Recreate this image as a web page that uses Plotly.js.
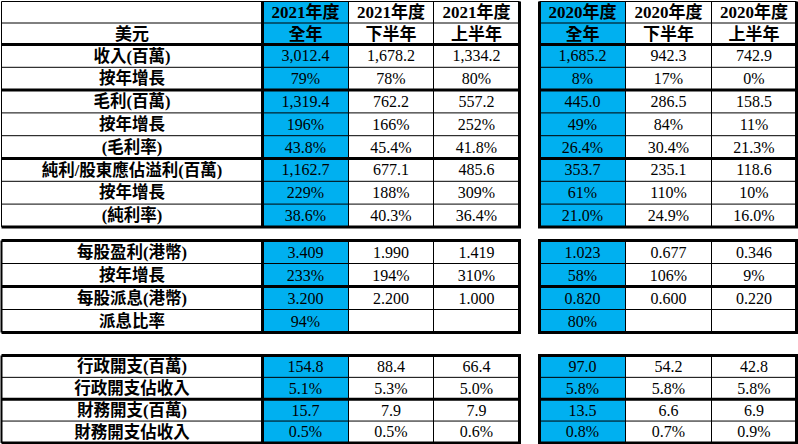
<!DOCTYPE html>
<html><head><meta charset="utf-8">
<script src="https://cdn.plot.ly/plotly-3.0.1.min.js"></script>
<style>html,body{margin:0;padding:0;background:#fff;overflow:hidden}</style>
</head><body><div id="chart" style="width:798px;height:444px"></div>
<script>
// ---------------- DATA ----------------
const periods = ['2021年度','2021年度','2021年度','2020年度','2020年度','2020年度'];
const halves  = ['全年','下半年','上半年','全年','下半年','上半年'];
const unitLabel = '美元';

const labels1 = ['收入(百萬)','按年增長','毛利(百萬)','按年增長','(毛利率)','純利/股東應佔溢利(百萬)','按年增長','(純利率)'];
const revenue     = [3012.4, 1678.2, 1334.2, 1685.2, 942.3, 742.9];
const revenueYoY  = [79, 78, 80, 8, 17, 0];
const grossProfit = [1319.4, 762.2, 557.2, 445.0, 286.5, 158.5];
const gpYoY       = [196, 166, 252, 49, 84, 11];
const gpMargin    = [43.8, 45.4, 41.8, 26.4, 30.4, 21.3];
const netProfit   = [1162.7, 677.1, 485.6, 353.7, 235.1, 118.6];
const npYoY       = [229, 188, 309, 61, 110, 10];
const npMargin    = [38.6, 40.3, 36.4, 21.0, 24.9, 16.0];

const labels2 = ['每股盈利(港幣)','按年增長','每股派息(港幣)','派息比率'];
const eps     = [3.409, 1.990, 1.419, 1.023, 0.677, 0.346];
const epsYoY  = [233, 194, 310, 58, 106, 9];
const dps     = [3.200, 2.200, 1.000, 0.820, 0.600, 0.220];
const payout  = [94, null, null, 80, null, null];

const labels3 = ['行政開支(百萬)','行政開支佔收入','財務開支(百萬)','財務開支佔收入'];
const adminExp = [154.8, 88.4, 66.4, 97.0, 54.2, 42.8];
const adminPct = [5.1, 5.3, 5.0, 5.8, 5.8, 5.8];
const finExp   = [15.7, 7.9, 7.9, 13.5, 6.6, 6.9];
const finPct   = [0.5, 0.5, 0.6, 0.8, 0.7, 0.9];

// ---------------- FORMATTING ----------------
const fmt = {
  m1: v => v.toLocaleString('en-US', {minimumFractionDigits: 1, maximumFractionDigits: 1}),
  p0: v => v.toFixed(0) + '%',
  p1: v => v.toFixed(1) + '%',
  d3: v => v.toFixed(3)
};

// ---------------- LAYOUT GEOMETRY ----------------
const W = 798, H = 444;
const labelLeft = 1.5, labelRight = 262.5;
const leftEdges  = [262.5, 348.5, 433.5, 519.5];
const rightEdges = [539.5, 625.5, 711.5, 796.5];
const colCenters = [];
[leftEdges, rightEdges].forEach(e => { for (let i = 0; i < 3; i++) colCenters.push((e[i] + e[i + 1]) / 2); });
const labelCenter = (labelLeft + labelRight) / 2;
const BLUE = '#00B0F0';

const blocks = [
  {labels: labels1, rows: [revenue, revenueYoY, grossProfit, gpYoY, gpMargin, netProfit, npYoY, npMargin],
   fmts: ['m1','p0','m1','p0','p1','m1','p0','p1'], top: 44.5, rowH: 22.8, thickAfter: [1, 4],
   header: {top: 1.5, rowH: 21.5}, leftW: 1},
  {labels: labels2, rows: [eps, epsYoY, dps, payout], fmts: ['d3','p0','d3','p0'],
   top: 240.5, rowH: 23.0, thickAfter: [1], leftW: 2},
  {labels: labels3, rows: [adminExp, adminPct, finExp, finPct], fmts: ['m1','p1','m1','p1'],
   top: 355.5, rowH: 21.85, thickAfter: [1], leftW: 2}
];

const shapes = [];
const fillShapes = [];
function hline(x0, x1, y, w) { shapes.push({type: 'line', xref: 'x', yref: 'y', x0, x1, y0: y, y1: y, line: {color: '#000', width: w}, layer: 'above'}); }
function vline(x, y0, y1, w) { shapes.push({type: 'line', xref: 'x', yref: 'y', x0: x, x1: x, y0, y1, line: {color: '#000', width: w}, layer: 'above'}); }
function rect(x0, x1, y0, y1, c) { fillShapes.push({type: 'rect', xref: 'x', yref: 'y', x0, x1, y0, y1, fillcolor: c, line: {width: 0}, layer: 'below'}); }

const labelText = {x: [], y: [], text: []};
const valueText = {x: [], y: [], text: []};
const headText  = {x: [], y: [], text: []};
const TY = 1.5; // text baseline nudge

blocks.forEach(b => {
  const n = b.labels.length;
  const bottom = b.top + n * b.rowH;
  const top = b.header ? b.header.top : b.top;
  // blue fills for full-year columns
  rect(leftEdges[0], leftEdges[1], top, bottom, BLUE);
  rect(rightEdges[0], rightEdges[1], top, bottom, BLUE);
  // header
  if (b.header) {
    const h = b.header;
    hline(labelLeft, leftEdges[3], h.top, 1);
    hline(rightEdges[0], rightEdges[3], h.top, 1);
    hline(labelLeft, leftEdges[3], h.top + h.rowH, 1);
    hline(rightEdges[0], rightEdges[3], h.top + h.rowH, 1);
    periods.forEach((p, i) => { headText.x.push(colCenters[i]); headText.y.push(h.top + h.rowH / 2 + TY); headText.text.push(p); });
    halves.forEach((p, i) => { headText.x.push(colCenters[i]); headText.y.push(h.top + 1.5 * h.rowH + TY); headText.text.push(p); });
    headText.x.push(labelCenter); headText.y.push(h.top + 1.5 * h.rowH + TY); headText.text.push(unitLabel);
  }
  // horizontal lines
  for (let r = 0; r <= n; r++) {
    const y = b.top + r * b.rowH;
    const thick = (r === 0 || r === n || b.thickAfter.includes(r - 1));
    const w = thick ? 3 : 1;
    hline(labelLeft, leftEdges[3] + 1.5, y, w);
    hline(rightEdges[0] - 1.5, rightEdges[3] + 1.5, y, w);
  }
  // vertical lines
  vline(labelLeft, top, bottom, b.leftW);
  leftEdges.forEach((x, i) => vline(x, top, bottom, (i === 0 || i === 3) ? 3 : 1));
  rightEdges.forEach((x, i) => vline(x, top, bottom, (i === 0 || i === 3) ? 3 : 1));
  // texts
  b.labels.forEach((lab, r) => {
    const yc = b.top + (r + 0.5) * b.rowH + TY;
    labelText.x.push(labelCenter); labelText.y.push(yc); labelText.text.push(lab);
    b.rows[r].forEach((v, c) => {
      if (v === null || v === undefined) return;
      valueText.x.push(colCenters[c]); valueText.y.push(yc); valueText.text.push(fmt[b.fmts[r]](v));
    });
  });
});

const FONT = 'Liberation Serif, "Noto Sans CJK TC", serif';
const traces = [
  {type: 'scatter', mode: 'text', x: valueText.x, y: valueText.y, text: valueText.text, textposition: 'middle center',
   textfont: {family: FONT, size: 16, color: '#000'}, hoverinfo: 'skip', showlegend: false, cliponaxis: false},
  {type: 'scatter', mode: 'text', x: labelText.x, y: labelText.y, text: labelText.text, textposition: 'middle center',
   textfont: {family: FONT, size: 16.5, color: '#000', weight: 'bold'}, hoverinfo: 'skip', showlegend: false, cliponaxis: false},
  {type: 'scatter', mode: 'text', x: headText.x, y: headText.y, text: headText.text, textposition: 'middle center',
   textfont: {family: FONT, size: 17, color: '#000', weight: 'bold'}, hoverinfo: 'skip', showlegend: false, cliponaxis: false}
];

const layout = {
  width: W, height: H, margin: {l: 0, r: 0, t: 0, b: 0, pad: 0},
  paper_bgcolor: '#fff', plot_bgcolor: '#fff', showlegend: false,
  xaxis: {range: [0, W], visible: false, fixedrange: true},
  yaxis: {range: [H, 0], visible: false, fixedrange: true},
  shapes: fillShapes.concat(shapes)
};
Plotly.newPlot('chart', traces, layout, {staticPlot: true, displayModeBar: false});
</script></body></html>
